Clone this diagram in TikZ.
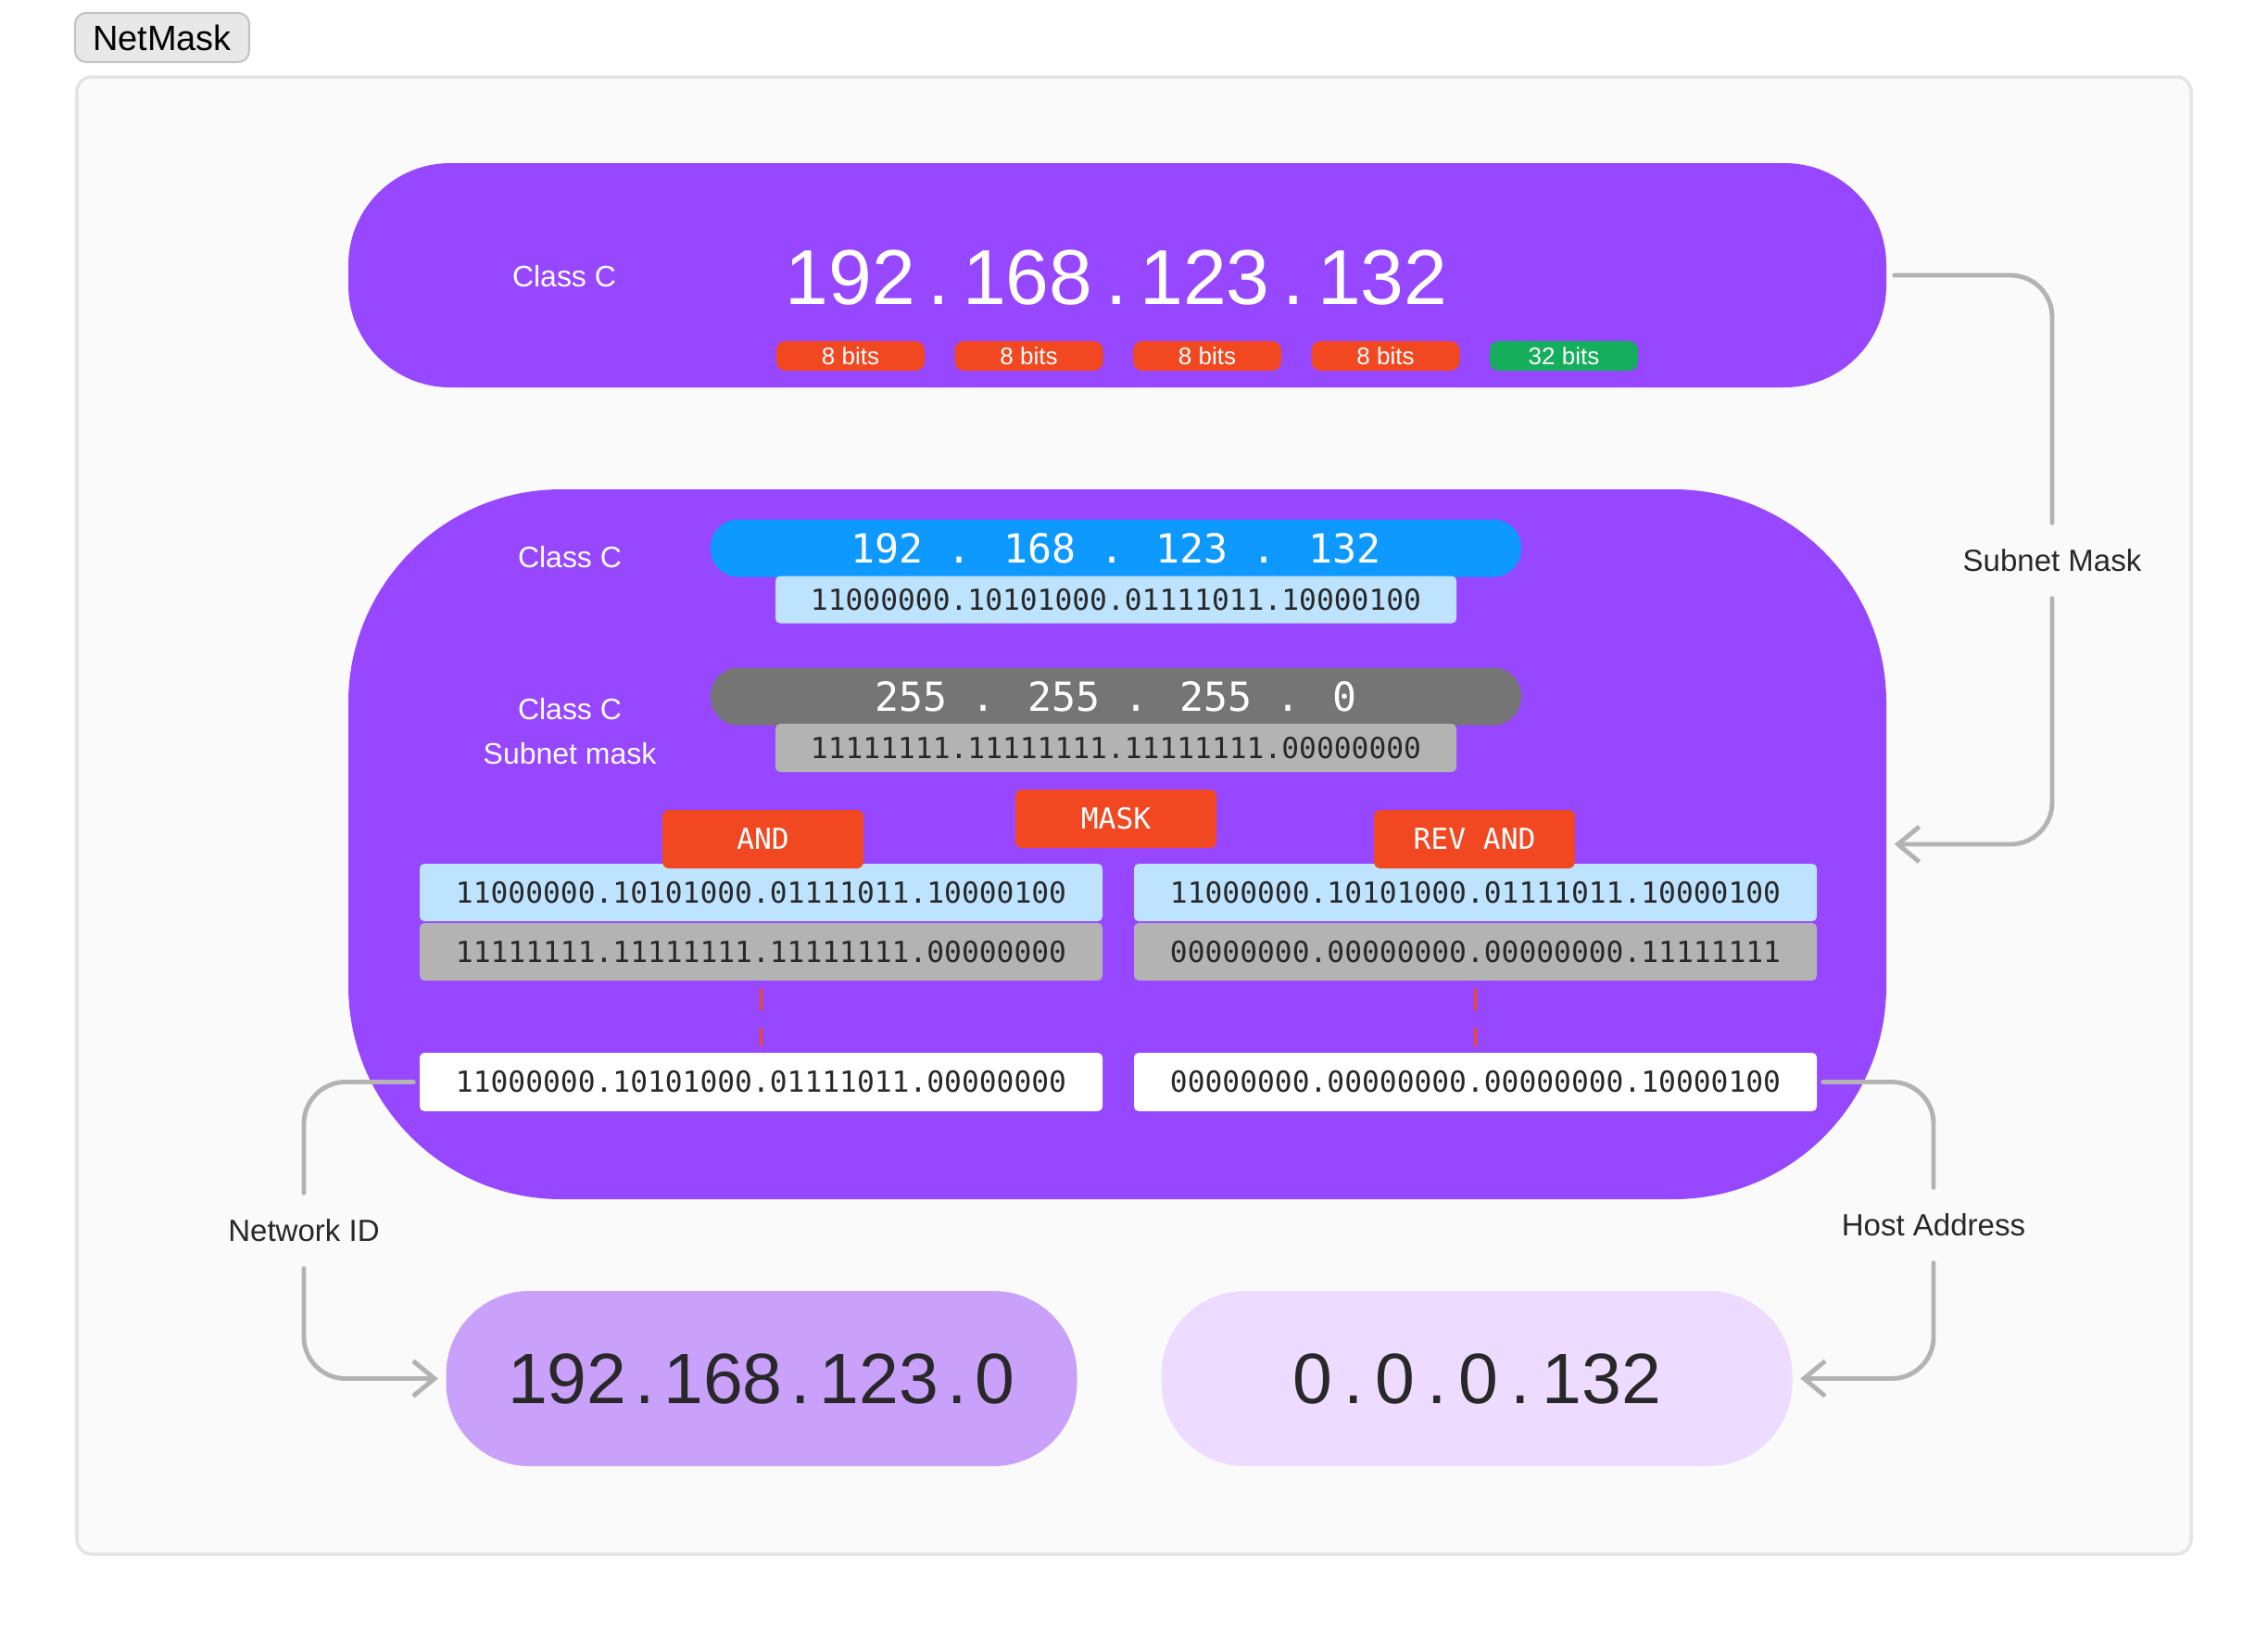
\documentclass[tikz,border=0pt]{standalone}
\usepackage{fontspec}
\setmainfont{Liberation Sans}
\newfontfamily\binfont{DejaVu Sans Mono}
\usepackage{tikz}
\usetikzlibrary{arrows.meta, positioning}
\tikzset{>={Straight Barb[length=2.3mm, width=3.8mm]}}
\definecolor{mypurple}{RGB}{151, 71, 255}
\definecolor{myblue}{RGB}{13, 153, 255}
\definecolor{mylightblue}{RGB}{189, 227, 255}
\definecolor{mydarkgray}{RGB}{117, 117, 117}
\definecolor{mygray}{RGB}{179, 179, 179}
\definecolor{myred}{RGB}{242, 72, 34}
\definecolor{mygreen}{RGB}{20, 174, 92}
\definecolor{mylilac}{RGB}{201, 160, 250}
\definecolor{mypalelilac}{RGB}{237, 220, 255}
\definecolor{myframe}{RGB}{250, 250, 250}
\definecolor{myframeline}{RGB}{228, 228, 228}
\definecolor{mytag}{RGB}{232, 232, 232}
\definecolor{mytagline}{RGB}{196, 196, 196}
\definecolor{mytext}{RGB}{40, 40, 40}

\begin{document}
\begin{tikzpicture}[x=1cm, y=-1cm,
  bitpill/.style={fill=#1, rounded corners=1mm, minimum width=1.6cm, minimum height=0.32cm, inner sep=0pt, text=white, font=\fontsize{7.4}{8}\selectfont},
  binrow/.style={fill=#1, rounded corners=0.5mm, minimum width=7.37cm, minimum height=0.62cm, inner sep=0pt, text=mytext, font=\binfont\fontsize{8.9}{10}\selectfont},
  oplabel/.style={fill=myred, rounded corners=0.7mm, minimum width=2.17cm, minimum height=0.63cm, inner sep=0pt, text=white, font=\binfont\fontsize{8.9}{10}\selectfont},
  ippill/.style={fill=#1, rounded corners=3mm, minimum width=8.75cm, minimum height=0.62cm, inner sep=0pt, text=white, font=\binfont\fontsize{12.3}{14}\selectfont},
  classlabel/.style={text=white, inner sep=0pt, align=center, font=\fontsize{9.1}{13.7}\selectfont},
  resultbox/.style={fill=#1, rounded corners=9mm, minimum width=6.81cm, minimum height=1.89cm, inner sep=0pt, text=mytext, font=\fontsize{21.9}{24}\selectfont},
  conn/.style={draw=mygray, line width=1.4pt, rounded corners=4.5mm, line cap=round},
  connlabel/.style={minimum height=0.8cm, inner sep=0pt, text=mytext, font=\fontsize{9.4}{11}\selectfont},
  andline/.style={draw=myred, line width=0.9pt, dash pattern=on 2.3mm off 1.9mm}]
\useasboundingbox (0, 0) rectangle (24.48, 17.60);
\fill[white] (0, 0) rectangle (24.48, 17.60);
\draw[draw=myframeline, fill=myframe, line width=1pt, rounded corners=1.6mm] (0.83, 0.83) rectangle (23.65, 16.77);
\node[fill=mytag, draw=mytagline, line width=0.6pt, rounded corners=1.2mm, minimum width=1.88cm, minimum height=0.53cm, inner sep=0pt, font=\fontsize{10.8}{12}\selectfont] (tag) at (1.75, 0.405) {NetMask};

% class C address
\node[fill=mypurple, rounded corners=11mm, minimum width=16.6cm, minimum height=2.42cm] (topbox) at (12.06, 2.97) {};
\node[classlabel] (topclass) at (6.09, 2.98) {Class C};
\node[text=white, inner sep=0pt, font=\fontsize{23.9}{26}\selectfont] (topip) at (12.05, 3.00) {192\,.\,168\,.\,123\,.\,132};
\foreach \i/\t/\c in {0/8 bits/myred, 1/8 bits/myred, 2/8 bits/myred, 3/8 bits/myred, 4/32 bits/mygreen}
  \node[bitpill=\c] (bits\i) at (9.18 + 1.925*\i, 3.84) {\t};

% masking
\node[fill=mypurple, rounded corners=23mm, minimum width=16.6cm, minimum height=7.66cm] (midbox) at (12.06, 9.11) {};
\node[classlabel] (ipclass) at (6.15, 6.01) {Class C};
\node[ippill=myblue] (ippill) at (12.045, 5.915) {192 . 168 . 123 . 132};
\node[binrow=mylightblue, minimum width=7.35cm, minimum height=0.51cm] (ipbin) at (12.045, 6.47) {11000000.10101000.01111011.10000100};
\node[classlabel] (maskclass) at (6.15, 7.89) {Class C\\Subnet mask};
\node[ippill=mydarkgray] (maskpill) at (12.045, 7.515) {255 . 255 . 255 . 0};
\node[binrow=mygray, minimum width=7.35cm, minimum height=0.52cm] (maskbin) at (12.045, 8.07) {11111111.11111111.11111111.00000000};

\node[binrow=mylightblue] (andip) at (8.215, 9.63) {11000000.10101000.01111011.10000100};
\node[binrow=mygray] (andmask) at (8.215, 10.27) {11111111.11111111.11111111.00000000};
\node[binrow=white, minimum height=0.63cm] (netres) at (8.215, 11.675) {11000000.10101000.01111011.00000000};
\node[binrow=mylightblue] (revip) at (15.925, 9.63) {11000000.10101000.01111011.10000100};
\node[binrow=mygray] (revmask) at (15.925, 10.27) {00000000.00000000.00000000.11111111};
\node[binrow=white, minimum height=0.63cm] (hostres) at (15.925, 11.675) {00000000.00000000.00000000.10000100};
\node[oplabel] (masklabel) at (12.045, 8.835) {MASK};
\node[oplabel] (andlabel) at (8.235, 9.055) {AND};
\node[oplabel] (revlabel) at (15.915, 9.055) {REV AND};
\draw[andline] ([yshift=-0.8mm]andmask.south) -- ([yshift=0.6mm]netres.north);
\draw[andline] ([yshift=-0.8mm]revmask.south) -- ([yshift=0.6mm]hostres.north);

% results
\node[resultbox=mylilac] (netbox) at (8.22, 14.875) {192\hspace{0.12em}.\hspace{0.12em}168\hspace{0.12em}.\hspace{0.12em}123\hspace{0.12em}.\hspace{0.12em}0};
\node[resultbox=mypalelilac] (hostbox) at (15.94, 14.875) {0\,.\,0\,.\,0\,.\,132};

\node[connlabel] (subnetlbl) at (22.15, 6.05) {Subnet Mask};
\node[connlabel] (netlbl) at (3.28, 13.28) {Network ID};
\node[connlabel] (hostlbl) at (20.87, 13.22) {Host Address};
\draw[conn] ([xshift=0.8mm]topbox.east) -| (subnetlbl.north);
\draw[conn, ->] (subnetlbl.south) |- ([xshift=0.8mm]midbox.east);
\draw[conn] ([xshift=-0.6mm]netres.west) -| (netlbl.north);
\draw[conn, ->] (netlbl.south) |- ([xshift=-0.8mm]netbox.west);
\draw[conn] ([xshift=0.6mm]hostres.east) -| (hostlbl.north);
\draw[conn, ->] (hostlbl.south) |- ([xshift=0.8mm]hostbox.east);
\end{tikzpicture}
\end{document}
